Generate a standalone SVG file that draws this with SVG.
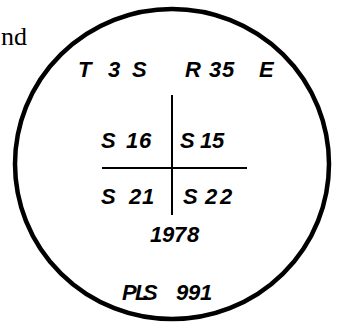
<svg xmlns="http://www.w3.org/2000/svg" width="337" height="326" viewBox="0 0 337 326">
<style>
.lt{font-family:"Liberation Sans","DejaVu Sans",sans-serif;font-weight:bold;font-style:italic;font-size:22px;fill:#000}
.sf{font-family:"Liberation Serif","DejaVu Serif",serif;font-size:26px;fill:#000}
.ln{stroke:#000;fill:none}
</style>
<rect width="337" height="326" fill="#fff"/>
<text class="sf" x="27" y="45" text-anchor="end">nd</text>
<g id="circle"><ellipse class="ln" cx="172" cy="164" rx="157" ry="155" stroke-width="4.5"/></g>
<g id="connectors">
<line class="ln" x1="172" y1="95" x2="172" y2="215" stroke-width="2"/>
<line class="ln" x1="102" y1="168" x2="247" y2="168" stroke-width="2"/>
</g>
<g id="labels">
<text class="lt" x="78 90 108 123 132" y="77">T 3 S</text>
<text class="lt" x="185 200 209 222 236 259" y="77">R 35 E</text>
<text class="lt" x="101 115 126 139" y="148">S 16</text>
<text class="lt" x="180 193 200 212" y="148">S 15</text>
<text class="lt" x="101 115 129 142" y="204">S 21</text>
<text class="lt" x="183 196 205 220" y="204">S 22</text>
<text class="lt" x="150 162 174 187" y="242">1978</text>
<text class="lt" x="122 135 143 160 176 188 200" y="300">PLS 991</text>
</g>
</svg>
